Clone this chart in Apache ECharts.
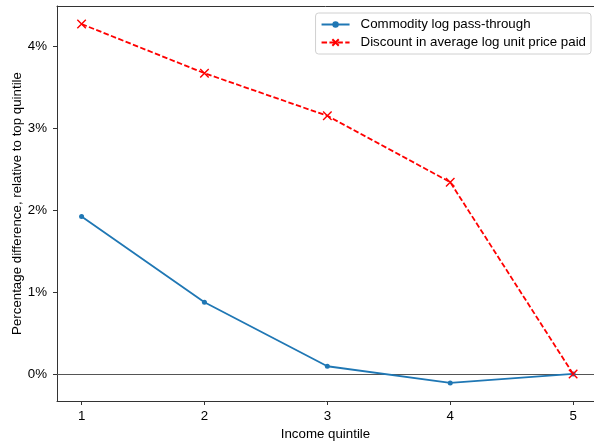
<!DOCTYPE html>
<html><head><meta charset="utf-8">
<script src="https://cdn.jsdelivr.net/npm/echarts@6/dist/echarts.min.js"></script>
<style>html,body{margin:0;padding:0;background:#fff}#c{width:594px;height:444px}</style>
</head><body><div id="c"></div>
<script>
const quintiles = [1, 2, 3, 4, 5];
const passThrough = [1.92, 0.875, 0.094, -0.11, 0.0];
const priceDiscount = [4.27, 3.67, 3.15, 2.34, 0.0];
const yTicks = [0, 1, 2, 3, 4];
const seriesNames = ['Commodity log pass-through', 'Discount in average log unit price paid'];

const chart = echarts.init(document.getElementById('c'), null, {renderer: 'canvas'});
const font = 'Liberation Sans, Arial, sans-serif';
const fs = 13.3;
chart.setOption({
  animation: false,
  textStyle: {fontFamily: font},
  grid: {left: 57, right: 0, top: 6, bottom: 43, containLabel: false, outerBoundsMode: 'none'},
  legend: {
    orient: 'vertical', right: 3, top: 13,
    backgroundColor: '#fff', borderColor: '#d0d0d0', borderWidth: 1, borderRadius: 3,
    padding: [5, 5, 5, 5], itemGap: 5, itemWidth: 28, itemHeight: 8,
    textStyle: {fontSize: fs, color: '#000', fontFamily: font, padding: [0, 0, 0, 6]},
    data: seriesNames
  },
  xAxis: [{
    type: 'value', min: 0.8, max: 5.17,
    name: 'Income quintile', nameLocation: 'middle', nameGap: 27, nameMoveOverlap: false,
    nameTextStyle: {fontSize: fs, color: '#000', fontFamily: font},
    axisLine: {show: true, onZero: false, lineStyle: {color: '#333', width: 1}},
    axisTick: {show: true, length: 4, lineStyle: {color: '#333'}, customValues: quintiles},
    axisLabel: {fontSize: fs, color: '#000', margin: 9, customValues: quintiles, formatter: v => String(v)},
    splitLine: {show: false}
  }, {
    type: 'value', position: 'top', min: 0.8, max: 5.17,
    axisLine: {show: true, onZero: false, lineStyle: {color: '#333', width: 1}},
    axisTick: {show: false}, axisLabel: {show: false}, splitLine: {show: false}
  }],
  yAxis: {
    type: 'value', min: -0.33, max: 4.49,
    name: 'Percentage difference, relative to top quintile', nameLocation: 'middle', nameGap: 33, nameMoveOverlap: false,
    nameTextStyle: {fontSize: fs, color: '#000', fontFamily: font},
    axisLine: {show: true, onZero: false, lineStyle: {color: '#333', width: 1}},
    axisTick: {show: true, length: 4, lineStyle: {color: '#333'}, customValues: yTicks},
    axisLabel: {fontSize: fs, color: '#000', margin: 10, customValues: yTicks, formatter: v => v + '%'},
    splitLine: {show: false}
  },
  series: [
    {
      name: seriesNames[0], type: 'line', z: 3, xAxisIndex: 0,
      data: quintiles.map((q, i) => [q, passThrough[i]]),
      symbol: 'circle', symbolSize: 5, showSymbol: true,
      lineStyle: {color: '#1f77b4', width: 1.8},
      itemStyle: {color: '#1f77b4'},
      markLine: {
        silent: true, symbol: 'none', label: {show: false},
        lineStyle: {color: '#555', width: 1.2, type: 'solid'},
        data: [{yAxis: 0}], z: 1
      }
    },
    {
      name: seriesNames[1], type: 'line', z: 4, xAxisIndex: 0,
      data: quintiles.map((q, i) => [q, priceDiscount[i]]),
      symbol: 'path://M0,0L10,10M10,0L0,10', symbolSize: 8.5, showSymbol: true,
      lineStyle: {color: '#ff0000', width: 1.8, type: [5.5, 2.4]},
      itemStyle: {color: '#ff0000', borderColor: '#ff0000', borderWidth: 1.4}
    }
  ]
});
</script></body></html>
